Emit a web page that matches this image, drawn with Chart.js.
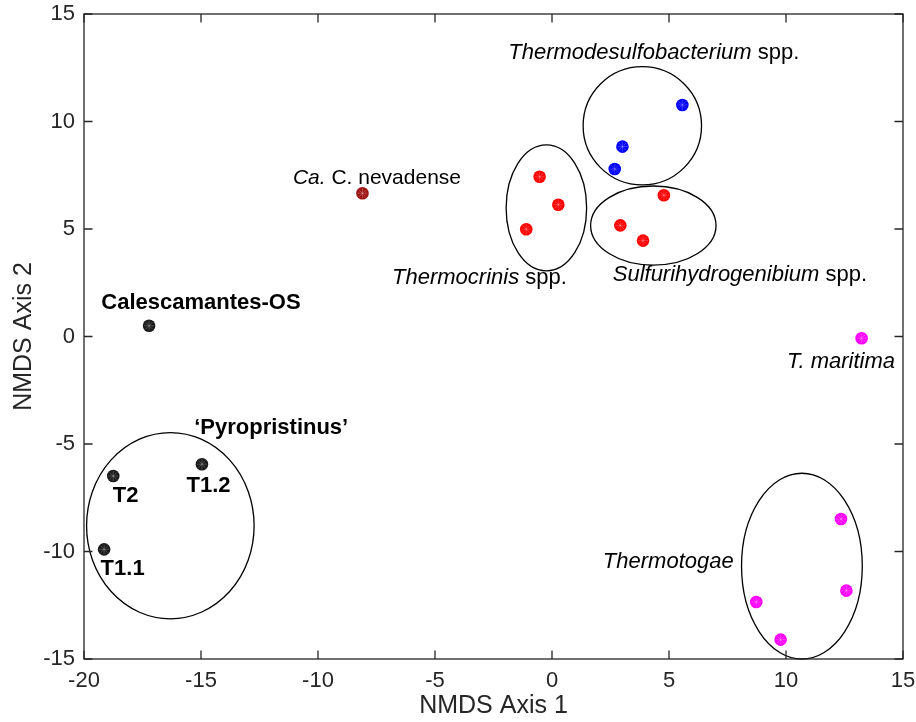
<!DOCTYPE html>
<html>
<head>
<meta charset="utf-8">
<script src="https://cdn.jsdelivr.net/npm/chart.js@4.4.1/dist/chart.umd.min.js"></script>
<style>
  html, body { margin: 0; padding: 0; background: #ffffff; }
  #wrap { width: 916px; height: 722px; }
</style>
</head>
<body>
<div id="wrap"><canvas id="nmds" width="916" height="722"></canvas></div>
<script>
// NMDS ordination: axis ranges and ticks
const xTickValues = [-20, -15, -10, -5, 0, 5, 10, 15];
const yTickValues = [-15, -10, -5, 0, 5, 10, 15];

// Sample coordinates (NMDS Axis 1, NMDS Axis 2) per group
const thermodesulfoX = [5.57, 3.01, 2.68];
const thermodesulfoY = [10.77, 8.83, 7.79];

const thermocrinisX = [-0.53, 0.27, -1.10];
const thermocrinisY = [7.43, 6.13, 4.99];

const sulfurihydroX = [4.78, 2.92, 3.89];
const sulfurihydroY = [6.57, 5.17, 4.46];

const maritimaX = [13.23];
const maritimaY = [-0.08];

const thermotogaeX = [12.35, 12.58, 8.73, 9.77];
const thermotogaeY = [-8.49, -11.82, -12.35, -14.10];

const nevadenseX = [-8.10];
const nevadenseY = [6.66];

const calescamantesX = [-17.22];
const calescamantesY = [0.50];

const pyropristinusX = [-18.75, -14.96, -19.14];   // T2, T1.2, T1.1
const pyropristinusY = [-6.49, -5.94, -9.90];

// Group ellipses: centre and semi-axes in axis units
const ellipseCX = [3.86, 4.33, -0.24, -16.31, 10.68];
const ellipseCY = [9.80, 5.16, 5.98, -8.80, -10.68];
const ellipseRX = [2.53, 2.68, 1.72, 3.58, 2.58];
const ellipseRY = [2.75, 1.84, 2.93, 4.33, 4.32];

// Text annotations: label parts and anchor (label centre) in axis units
const labelText = [
  [['Thermodesulfobacterium', 'i'], [' spp.', 'n']],
  [['Ca.', 'i'], [' C. nevadense', 'n']],
  [['Thermocrinis', 'i'], [' spp.', 'n']],
  [['Sulfurihydrogenibium', 'i'], [' spp.', 'n']],
  [['T. maritima', 'i']],
  [['Thermotogae', 'i']],
  [['Calescamantes-OS', 'b']],
  [['\u2018Pyropristinus\u2019', 'b']],
  [['T2', 'b']],
  [['T1.2', 'b']],
  [['T1.1', 'b']]
];
const labelX = [4.35, -7.48, -3.10, 8.03, 12.35, 4.97, -15.00, -12.00, -18.22, -14.68, -18.35];
const labelY = [13.19, 7.37, 2.72, 2.88, -1.19, -10.49, 1.56, -4.26, -7.42, -6.94, -10.80];

const FONT = '"Liberation Sans", Arial, Helvetica, sans-serif';
const AXIS_COLOR = '#262626';
const LABEL_SIZE = 22;
const LABEL_SIZE_SMALL = 21;   // the Ca. C. nevadense label is set a little smaller

function pts(xs, ys) {
  return xs.map((x, i) => ({ x: x, y: ys[i] }));
}

const groups = [
  { x: thermodesulfoX, y: thermodesulfoY, color: '#0000FF' },
  { x: thermocrinisX, y: thermocrinisY, color: '#FF0000' },
  { x: sulfurihydroX, y: sulfurihydroY, color: '#FF0000' },
  { x: maritimaX, y: maritimaY, color: '#FF00FF' },
  { x: thermotogaeX, y: thermotogaeY, color: '#FF00FF' },
  { x: nevadenseX, y: nevadenseY, color: '#9E1313' },
  { x: calescamantesX, y: calescamantesY, color: '#1A1A1A' },
  { x: pyropristinusX, y: pyropristinusY, color: '#1A1A1A' }
];

const datasets = [];
groups.forEach(g => {
  datasets.push({
    data: pts(g.x, g.y),
    backgroundColor: g.color,
    borderWidth: 0,
    pointRadius: 6.3,
    pointHoverRadius: 6.3,
    order: 2
  });
});
// faint asterisk drawn over each filled marker
groups.forEach(g => {
  datasets.push({
    data: pts(g.x, g.y),
    pointStyle: 'star',
    backgroundColor: 'rgba(0,0,0,0)',
    borderColor: 'rgba(255,255,255,0.28)',
    borderWidth: 0.8,
    pointRadius: 5,
    pointHoverRadius: 5,
    order: 1
  });
});

// ellipses around sample groups, under the markers
const ellipsePlugin = {
  id: 'groupEllipses',
  beforeDatasetsDraw(chart) {
    const { ctx, scales: { x, y } } = chart;
    ctx.save();
    ctx.strokeStyle = '#000000';
    ctx.lineWidth = 1.3;
    for (let i = 0; i < ellipseCX.length; i++) {
      const cx = x.getPixelForValue(ellipseCX[i]);
      const cy = y.getPixelForValue(ellipseCY[i]);
      const rx = Math.abs(x.getPixelForValue(ellipseCX[i] + ellipseRX[i]) - cx);
      const ry = Math.abs(y.getPixelForValue(ellipseCY[i] + ellipseRY[i]) - cy);
      ctx.beginPath();
      ctx.ellipse(cx, cy, rx, ry, 0, 0, Math.PI * 2);
      ctx.stroke();
    }
    ctx.restore();
  }
};

// boxed axes with inward tick marks on all four sides
const framePlugin = {
  id: 'boxFrame',
  afterDatasetsDraw(chart) {
    const { ctx, chartArea: a, scales: { x, y } } = chart;
    const tl = 8.5;
    ctx.save();
    ctx.strokeStyle = AXIS_COLOR;
    ctx.lineWidth = 1.3;
    ctx.beginPath();
    x.ticks.forEach(t => {
      const px = x.getPixelForValue(t.value);
      ctx.moveTo(px, a.bottom); ctx.lineTo(px, a.bottom - tl);
      ctx.moveTo(px, a.top); ctx.lineTo(px, a.top + tl);
    });
    y.ticks.forEach(t => {
      const py = y.getPixelForValue(t.value);
      ctx.moveTo(a.left, py); ctx.lineTo(a.left + tl, py);
      ctx.moveTo(a.right, py); ctx.lineTo(a.right - tl, py);
    });
    ctx.stroke();
    ctx.strokeRect(a.left, a.top, a.right - a.left, a.bottom - a.top);
    ctx.restore();
  }
};

// species / strain annotations
const labelPlugin = {
  id: 'speciesLabels',
  afterDatasetsDraw(chart) {
    const { ctx, scales: { x, y } } = chart;
    ctx.save();
    ctx.fillStyle = '#000000';
    ctx.textBaseline = 'middle';
    ctx.textAlign = 'left';
    labelText.forEach((parts, i) => {
      const size = i === 1 ? LABEL_SIZE_SMALL : LABEL_SIZE;
      const fontFor = s => (s === 'i' ? 'italic ' : s === 'b' ? 'bold ' : '') + size + 'px ' + FONT;
      let total = 0;
      const widths = parts.map(p => { ctx.font = fontFor(p[1]); const w = ctx.measureText(p[0]).width; total += w; return w; });
      let px = x.getPixelForValue(labelX[i]) - total / 2;
      const py = y.getPixelForValue(labelY[i]);
      parts.forEach((p, k) => {
        ctx.font = fontFor(p[1]);
        ctx.fillText(p[0], px, py);
        px += widths[k];
      });
    });
    ctx.restore();
  }
};

new Chart(document.getElementById('nmds'), {
  type: 'scatter',
  data: { datasets: datasets },
  options: {
    responsive: false,
    animation: false,
    devicePixelRatio: 1,
    layout: { padding: { top: 14, right: 13, left: 0, bottom: 0 } },
    plugins: { legend: { display: false }, tooltip: { enabled: false } },
    events: [],
    scales: {
      x: {
        type: 'linear',
        min: xTickValues[0],
        max: xTickValues[xTickValues.length - 1],
        afterBuildTicks(scale) { scale.ticks = xTickValues.map(v => ({ value: v })); },
        afterFit(scale) {
          scale.height = 63;
          scale.paddingLeft = 0; scale.paddingRight = 0;
          scale.paddingTop = 0; scale.paddingBottom = 0;
        },
        grid: { display: false, drawTicks: false },
        border: { display: false },
        ticks: { color: AXIS_COLOR, padding: 8.6, maxRotation: 0, font: { family: FONT, size: 22 } },
        title: { display: true, text: 'NMDS Axis 1', color: AXIS_COLOR, padding: { top: 0, bottom: 1 }, font: { family: FONT, size: 25 } }
      },
      y: {
        type: 'linear',
        min: yTickValues[0],
        max: yTickValues[yTickValues.length - 1],
        afterBuildTicks(scale) { scale.ticks = yTickValues.map(v => ({ value: v })); },
        afterFit(scale) {
          scale.width = 84;
          scale.paddingLeft = 0; scale.paddingRight = 0;
          scale.paddingTop = 0; scale.paddingBottom = 0;
        },
        grid: { display: false, drawTicks: false },
        border: { display: false },
        ticks: { color: AXIS_COLOR, padding: 9, font: { family: FONT, size: 22 } },
        title: { display: true, text: 'NMDS Axis 2', color: AXIS_COLOR, padding: { top: 9, bottom: 0 }, font: { family: FONT, size: 25 } }
      }
    }
  },
  plugins: [ellipsePlugin, labelPlugin, framePlugin]
});
</script>
</body>
</html>
